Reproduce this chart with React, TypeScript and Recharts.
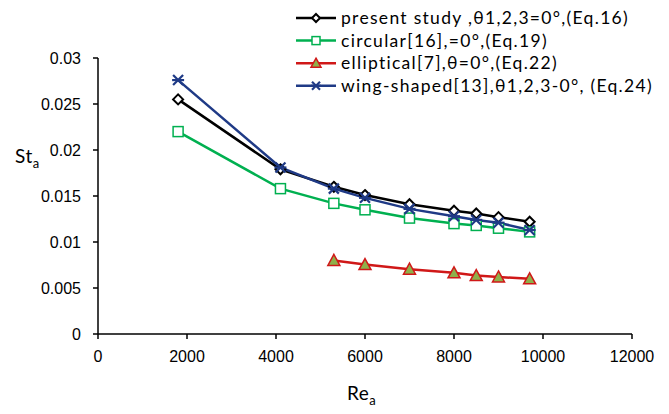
import { CartesianGrid, Line, LineChart, XAxis, YAxis } from 'recharts'

const reValues = [1800, 4100, 5300, 6000, 7000, 8000, 8500, 9000, 9700]
const presentStudy = [0.0255, 0.0179, 0.016, 0.0151, 0.0141, 0.0134, 0.0131, 0.0127, 0.0122]
const circular = [0.022, 0.0158, 0.0142, 0.0135, 0.0126, 0.012, 0.0118, 0.0115, 0.0111]
const elliptical = [null, null, 0.008, 0.00755, 0.00705, 0.00665, 0.00635, 0.0062, 0.006]
const wingShaped = [0.0276, 0.0181, 0.0158, 0.0148, 0.0136, 0.0128, 0.0124, 0.0121, 0.0113]

const xTicks = [0, 2000, 4000, 6000, 8000, 10000, 12000]
const yTicks = [0, 0.005, 0.01, 0.015, 0.02, 0.025, 0.03]

const series = [
  { key: 'present', label: 'present study ,θ1,2,3=0°,(Eq.16)', color: '#000000', marker: 'diamond' },
  { key: 'circular', label: 'circular[16],=0°,(Eq.19)', color: '#00b050', marker: 'square' },
  { key: 'elliptical', label: 'elliptical[7],θ=0°,(Eq.22)', color: '#d01818', marker: 'triangle' },
  { key: 'wing', label: 'wing-shaped[13],θ1,2,3-0°, (Eq.24)', color: '#1f3a86', marker: 'star' },
]

const data = reValues.map((re, i) => ({
  re,
  present: presentStudy[i],
  circular: circular[i],
  elliptical: elliptical[i],
  wing: wingShaped[i],
}))

const tickFont = "'Liberation Sans Narrow', 'Arial Narrow', 'Liberation Sans', sans-serif"
const labelFont = "Lato, 'Open Sans', sans-serif"

function Marker({ kind, cx, cy, color, s = 5 }: { kind: string; cx: number; cy: number; color: string; s?: number }) {
  if (kind === 'diamond') {
    return <path d={`M${cx},${cy - s}L${cx + s},${cy}L${cx},${cy + s}L${cx - s},${cy}Z`} fill="#fff" stroke={color} strokeWidth={2} />
  }
  if (kind === 'square') {
    return <rect x={cx - s} y={cy - s} width={2 * s} height={2 * s} fill="#fff" stroke={color} strokeWidth={1.5} />
  }
  if (kind === 'triangle') {
    return <path d={`M${cx},${cy - s - 1}L${cx + s + 1},${cy + s}L${cx - s - 1},${cy + s}Z`} fill="#8fb04a" stroke={color} strokeWidth={1.5} />
  }
  return (
    <g stroke={color} strokeWidth={2.2}>
      <line x1={cx - s} y1={cy - s} x2={cx + s} y2={cy + s} />
      <line x1={cx - s} y1={cy + s} x2={cx + s} y2={cy - s} />
      <line x1={cx - s - 1} y1={cy} x2={cx + s + 1} y2={cy} />
    </g>
  )
}

function markerDot(kind: string, color: string) {
  return (props: any) => {
    if (props.cx == null || props.cy == null || props.value == null) return <g key={props.index} />
    return <Marker key={props.index} kind={kind} cx={props.cx} cy={props.cy} color={color} />
  }
}

function LegendBox() {
  return (
    <g>
      {series.map((s, i) => {
        const y = 18 + i * 22.6
        return (
          <g key={s.key}>
            <line x1={296} x2={336} y1={y} y2={y} stroke={s.color} strokeWidth={2.5} />
            <Marker kind={s.marker} cx={316} cy={y} color={s.color} s={4} />
            <text x={341} y={y + 6} fontFamily={labelFont} fontSize={17.5} letterSpacing={1.3} fill="#000">{s.label}</text>
          </g>
        )
      })}
    </g>
  )
}

export default function App() {
  return (
    <div style={{ position: 'absolute', left: 0, top: 0, width: 669, height: 414, background: '#fff' }}>
      <LineChart width={669} height={414} data={data} margin={{ top: 58, right: 37, bottom: 50, left: 0 }}>
        <CartesianGrid stroke="none" />
        <XAxis
          dataKey="re"
          type="number"
          domain={[0, 12000]}
          ticks={xTicks}
          interval={0}
          stroke="#000"
          strokeWidth={1.5}
          tickSize={5}
          tickMargin={12}
          height={30}
          tick={{ fontFamily: tickFont, fontSize: 16, fill: '#000' }}
          label={({ viewBox }: any) => (
            <text x={viewBox.x + viewBox.width / 2 - 18} y={400} fontFamily={labelFont} fontSize={19} letterSpacing={0.5} fill="#000">
              Re<tspan fontSize={13} dy={5}>a</tspan>
            </text>
          )}
        />
        <YAxis
          type="number"
          domain={[0, 0.03]}
          ticks={yTicks}
          interval={0}
          width={98}
          stroke="#000"
          strokeWidth={1.5}
          tickSize={5}
          tickMargin={12}
          tick={{ fontFamily: tickFont, fontSize: 16, fill: '#000' }}
          tickFormatter={(v: number) => String(v)}
          label={() => (
            <text x={15} y={163} fontFamily={labelFont} fontSize={19} letterSpacing={0.5} fill="#000">
              St<tspan fontSize={13} dy={5}>a</tspan>
            </text>
          )}
        />
        {series.map((s) => (
          <Line
            key={s.key}
            dataKey={s.key}
            stroke={s.color}
            strokeWidth={2.5}
            dot={markerDot(s.marker, s.color)}
            activeDot={false}
            isAnimationActive={false}
            connectNulls
          />
        ))}
        <LegendBox />
      </LineChart>
    </div>
  )
}
